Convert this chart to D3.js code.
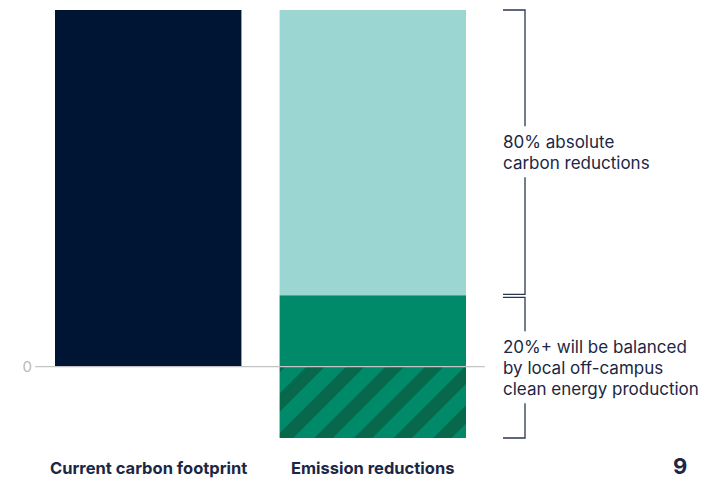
<!DOCTYPE html>
<html><head><meta charset="utf-8">
<script src="https://cdn.jsdelivr.net/npm/d3@7"></script>
<style>
html,body{margin:0;padding:0;background:#fff;}
svg{display:block;font-family:"Inter","Liberation Sans",sans-serif;}
</style></head>
<body>
<svg id="chart" width="721" height="480"></svg>
<script>
// Data
const categories = ["Current carbon footprint", "Emission reductions"];
const currentFootprint = [100];
// segments of the reductions bar: [start, end]
const segmentNames = ["absolute", "balanced", "offsite"];
const segmentStart = [20, 0, -20];
const segmentEnd = [100, 20, 0];
const bracketLabels = [
  ["80% absolute", "carbon reductions"],
  ["20%+ will be balanced", "by local off-campus", "clean energy production"]
];
const bracketRanges = [[20, 100], [-20, 20]];
const zeroTick = [0];
const pageNumber = "9";

const svg = d3.select("#chart");
const y = d3.scaleLinear().domain([-20, 100]).range([438, 10]);
const x = d3.scaleBand().domain(categories).range([55, 466]).paddingInner(0.17).paddingOuter(0);

const navy = "#001533", teal = "#9bd6d3", green = "#008a69", dark = "#07684b", text = "#1b2745";

const defs = svg.append("defs");
const pat = defs.append("pattern").attr("id", "hatch").attr("patternUnits", "userSpaceOnUse")
  .attr("width", 28).attr("height", 28).attr("patternTransform", "rotate(45)");
pat.append("rect").attr("width", 28).attr("height", 28).attr("fill", green);
pat.append("rect").attr("x", 0).attr("width", 13).attr("height", 28).attr("fill", dark);

// Current bar
svg.append("rect")
  .attr("x", x(categories[0])).attr("width", x.bandwidth())
  .attr("y", y(currentFootprint[0])).attr("height", y(0) - y(currentFootprint[0]))
  .attr("fill", navy);

// Reductions stacked
const fills = [teal, green, "url(#hatch)"];
svg.selectAll("rect.seg").data(segmentNames).enter().append("rect").attr("class", "seg")
  .attr("x", x(categories[1])).attr("width", x.bandwidth())
  .attr("y", (d, i) => y(segmentEnd[i]))
  .attr("height", (d, i) => y(segmentStart[i]) - y(segmentEnd[i]))
  .attr("fill", (d, i) => fills[i]);

// zero line
const yAxis = d3.axisLeft(y).tickValues(zeroTick).tickSize(0).tickPadding(5);
svg.append("line").attr("x1", 35).attr("x2", 485).attr("y1", y(0)).attr("y2", y(0))
  .attr("stroke", "#c4c4c4").attr("stroke-width", 1.3);
const ax = svg.append("g").attr("transform", "translate(37,0)").call(yAxis);
ax.select(".domain").remove();
ax.selectAll("text").attr("fill", "#b9b9b9").attr("font-size", 15).attr("font-family", "Inter, Liberation Sans, sans-serif");

// Brackets
const bx = 525, bx0 = 503, lh = 21;
bracketRanges.forEach((r, i) => {
  const top = y(r[1]) + (i === 1 ? 2 : 0);
  const bot = y(r[0]) - (i === 0 ? 1 : 0);
  const lines = bracketLabels[i];
  const mid = (top + bot) / 2;
  const tTop = mid - lines.length * lh / 2 - 5;
  const tBot = mid + lines.length * lh / 2 + 4;
  const g = svg.append("g").attr("stroke", "#2b3650").attr("stroke-width", 1.3).attr("fill", "none");
  g.append("path").attr("d", `M${bx0},${top}H${bx}V${tTop}`);
  g.append("path").attr("d", `M${bx},${tBot}V${bot}H${bx0}`);
  const t = svg.append("text").attr("x", bx0).attr("fill", text).attr("font-size", 17);
  lines.forEach((l, j) => {
    t.append("tspan").attr("x", bx0).attr("y", mid - (lines.length - 1) * lh / 2 + j * lh + 6).text(l);
  });
});

// category labels
const labelX = [50, 291];
svg.selectAll("text.cat").data(categories).enter().append("text").attr("class", "cat")
  .attr("x", (d, i) => labelX[i]).attr("y", 474)
  .attr("font-size", 16.5).attr("font-weight", 700).attr("fill", text)
  .text(d => d);

svg.append("text").attr("x", 673).attr("y", 474).attr("font-size", 22).attr("font-weight", 700)
  .attr("fill", text).text(pageNumber);
</script>
</body></html>
